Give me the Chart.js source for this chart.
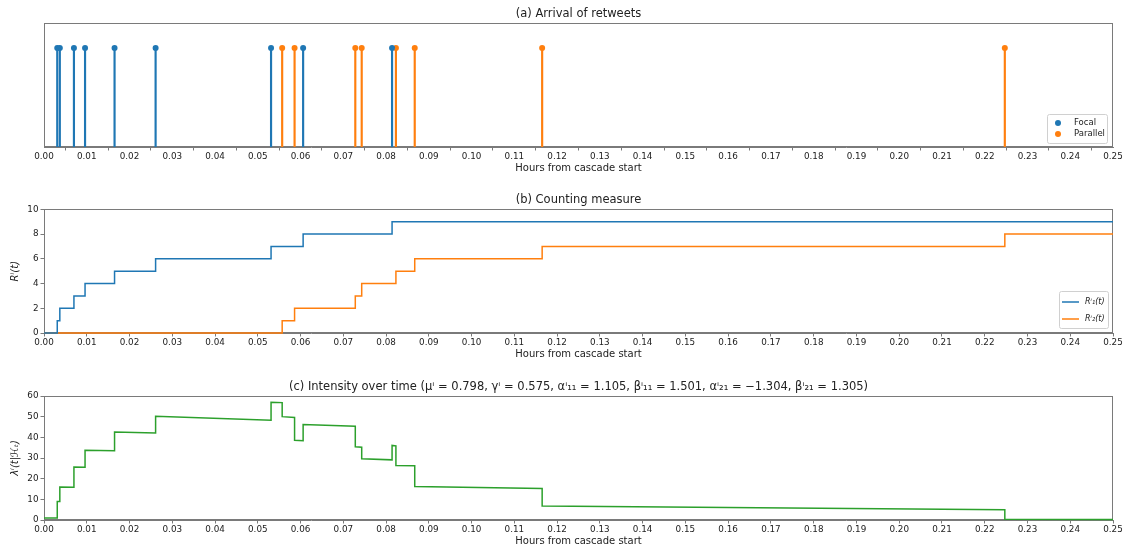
<!DOCTYPE html>
<html>
<head>
<meta charset="utf-8">
<script src="https://cdn.jsdelivr.net/npm/chart.js@4.4.1/dist/chart.umd.min.js"></script>
<style>
  html, body { margin: 0; padding: 0; background: #fff; }
  #wrap { position: relative; width: 1128px; height: 550px; }
  #wrap canvas { position: absolute; left: 0; }
</style>
</head>
<body>
<div id="wrap">
  <canvas id="arrivalChart" width="1128" height="177" style="top:0px"></canvas>
  <canvas id="countChart" width="1128" height="186" style="top:177px"></canvas>
  <canvas id="intensityChart" width="1128" height="187" style="top:363px"></canvas>
</div>
<script>
// retweet arrival times (hours from cascade start)
const focalTimes = [0.0031, 0.0037, 0.0070, 0.0096, 0.0165, 0.0261, 0.0531, 0.0606, 0.0814];
const parallelTimes = [0.0557, 0.0586, 0.0728, 0.0743, 0.0823, 0.0867, 0.1165, 0.2247];

// counting measure after each arrival
const focalCounts = [1, 2, 3, 4, 5, 6, 7, 8, 9];
const parallelCounts = [1, 2, 3, 4, 5, 6, 7, 8];

// intensity: segment boundaries, value at start and end of each segment
const intensityTimes = [0, 0.0031, 0.0037, 0.0070, 0.0096, 0.0165, 0.0261, 0.0531, 0.0557, 0.0586,
  0.0606, 0.0728, 0.0743, 0.0814, 0.0823, 0.0867, 0.1165, 0.2247, 0.25];
const intensityStart = [1.0, 9.0, 16.0, 25.6, 33.7, 42.6, 50.2, 57.0, 50.0, 38.6, 46.2, 35.4, 29.6, 36.1, 26.4, 16.2, 6.8, 0.4];
const intensityEnd = [1.0, 9.0, 15.9, 25.5, 33.5, 42.1, 48.3, 56.8, 49.6, 38.4, 45.4, 35.2, 29.1, 35.9, 26.2, 15.2, 5.0, 0.3];

const xMin = 0;
const xMax = 0.25;
const xStep = 0.01;

const BLUE = '#1f77b4';
const ORANGE = '#ff7f0e';
const GREEN = '#2ca02c';
const SPINE = '#7a7a7a';
const TEXT = '#222';

Chart.defaults.font.family = '"DejaVu Sans", sans-serif';
Chart.defaults.color = TEXT;
Chart.defaults.animation = false;

// matplotlib-like box around the axes, drawn under the data
const frame = {
  id: 'frame',
  beforeDatasetsDraw(chart) {
    const {ctx, chartArea: a} = chart;
    ctx.save();
    ctx.strokeStyle = SPINE;
    ctx.lineWidth = 1;
    ctx.strokeRect(Math.round(a.left) + 0.5, Math.round(a.top) + 0.5,
      Math.round(a.right - a.left) - 1, Math.round(a.bottom - a.top) - 1);
    ctx.restore();
  }
};

// legend in the lower right corner of the axes
const cornerLegend = {
  id: 'cornerLegend',
  afterDraw(chart, args, opts) {
    if (!opts.items) return;
    const {ctx, chartArea: a} = chart;
    const left = a.right - opts.right - opts.width;
    const top = a.bottom - opts.bottom - opts.height;
    ctx.save();
    ctx.fillStyle = 'rgba(255,255,255,0.85)';
    ctx.strokeStyle = '#d0d0d0';
    ctx.lineWidth = 1;
    ctx.beginPath();
    ctx.roundRect(left + 0.5, top + 0.5, opts.width, opts.height, 2);
    ctx.fill();
    ctx.stroke();
    ctx.font = opts.font;
    ctx.textBaseline = 'middle';
    ctx.textAlign = 'left';
    opts.items.forEach((item, i) => {
      const y = top + opts.first + i * opts.row;
      ctx.fillStyle = item.color;
      ctx.strokeStyle = item.color;
      if (item.kind === 'point') {
        ctx.beginPath();
        ctx.arc(left + 11, y, 3, 0, Math.PI * 2);
        ctx.fill();
      } else {
        ctx.lineWidth = 1.5;
        ctx.beginPath();
        ctx.moveTo(left + 3, y);
        ctx.lineTo(left + 20, y);
        ctx.stroke();
      }
      ctx.fillStyle = TEXT;
      ctx.fillText(item.label, left + opts.textX, y);
    });
    ctx.restore();
  }
};

function xAxis() {
  return {
    type: 'linear',
    min: xMin,
    max: xMax,
    offset: false,
    grid: { display: true, drawOnChartArea: false, drawTicks: true, tickLength: 3.5, color: SPINE },
    border: { display: true, color: SPINE },
    ticks: {
      stepSize: xStep,
      autoSkip: false,
      maxRotation: 0,
      padding: 1,
      font: { size: 8.8 },
      callback: v => v.toFixed(2)
    },
    title: { display: true, text: 'Hours from cascade start', font: { size: 10 }, padding: { top: 0, bottom: 3 } },
    afterFit: s => { s.height = 30; }
  };
}

function yAxis(max, step, label) {
  return {
    min: 0,
    max: max,
    grid: { display: true, drawOnChartArea: false, drawTicks: true, tickLength: 3.5, color: SPINE },
    border: { display: true, color: SPINE },
    ticks: { stepSize: step, padding: 2, font: { size: 8.8 } },
    title: { display: true, text: label, font: { size: 10, style: 'italic' }, padding: { top: 9, bottom: 0 } },
    afterFit: s => { s.width = 44; }
  };
}

function titleOpts(text, top) {
  return {
    display: true, text: text, fullSize: false,
    font: { size: 11.5, weight: 'normal' }, color: TEXT,
    padding: { top: top, bottom: 2 }
  };
}

// (a) arrival of retweets
new Chart(document.getElementById('arrivalChart'), {
  type: 'scatter',
  data: {
    datasets: [
      { type: 'bar', data: focalTimes.map(t => ({ x: t, y: 1 })), backgroundColor: BLUE, barThickness: 1.5, grouped: false },
      { type: 'bar', data: parallelTimes.map(t => ({ x: t, y: 1 })), backgroundColor: ORANGE, barThickness: 1.5, grouped: false },
      { label: 'Focal', data: focalTimes.map(t => ({ x: t, y: 1 })), backgroundColor: BLUE, borderWidth: 0, pointRadius: 3 },
      { label: 'Parallel', data: parallelTimes.map(t => ({ x: t, y: 1 })), backgroundColor: ORANGE, borderWidth: 0, pointRadius: 3 }
    ]
  },
  options: {
    responsive: false,
    layout: { padding: { left: 44, right: 15, top: 0, bottom: 0 } },
    scales: {
      x: xAxis(),
      y: { display: false, min: 0, max: 1.25 }
    },
    plugins: {
      legend: { display: false },
      tooltip: { enabled: false },
      title: titleOpts('(a) Arrival of retweets', 7.5),
      cornerLegend: {
        items: [
          { label: 'Focal', color: BLUE, kind: 'point' },
          { label: 'Parallel', color: ORANGE, kind: 'point' }
        ],
        width: 60, height: 29, right: 6, bottom: 4, first: 9, row: 11, textX: 27,
        font: '8.5px "DejaVu Sans"'
      }
    }
  },
  plugins: [frame, cornerLegend]
});

// (b) counting measure
const focalSteps = [{ x: xMin, y: 0 }, ...focalTimes.map((t, i) => ({ x: t, y: focalCounts[i] })), { x: xMax, y: focalCounts[focalCounts.length - 1] }];
const parallelSteps = [{ x: xMin, y: 0 }, ...parallelTimes.map((t, i) => ({ x: t, y: parallelCounts[i] })), { x: xMax, y: parallelCounts[parallelCounts.length - 1] }];

new Chart(document.getElementById('countChart'), {
  type: 'line',
  data: {
    datasets: [
      { label: 'Rⁱ₁(t)', data: focalSteps, borderColor: BLUE, borderWidth: 1.5, pointRadius: 0, stepped: 'before', fill: false, clip: false },
      { label: 'Rⁱ₂(t)', data: parallelSteps, borderColor: ORANGE, borderWidth: 1.5, pointRadius: 0, stepped: 'before', fill: false, clip: false }
    ]
  },
  options: {
    responsive: false,
    layout: { padding: { left: 0, right: 15, top: 0, bottom: 0 } },
    scales: {
      x: xAxis(),
      y: yAxis(10, 2, 'Rⁱ(t)')
    },
    plugins: {
      legend: { display: false },
      tooltip: { enabled: false },
      title: titleOpts('(b) Counting measure', 16.5),
      cornerLegend: {
        items: [
          { label: 'Rⁱ₁(t)', color: BLUE, kind: 'line' },
          { label: 'Rⁱ₂(t)', color: ORANGE, kind: 'line' }
        ],
        width: 49, height: 37, right: 5, bottom: 5, first: 11, row: 17, textX: 26,
        font: 'italic 8px "DejaVu Sans"'
      }
    }
  },
  plugins: [frame, cornerLegend]
});

// (c) intensity over time
const intensityPoints = [];
for (let i = 0; i < intensityStart.length; i++) {
  intensityPoints.push({ x: intensityTimes[i], y: intensityStart[i] });
  intensityPoints.push({ x: intensityTimes[i + 1], y: intensityEnd[i] });
}

new Chart(document.getElementById('intensityChart'), {
  type: 'line',
  data: {
    datasets: [
      { data: intensityPoints, borderColor: GREEN, borderWidth: 1.5, pointRadius: 0, tension: 0, fill: false, clip: false }
    ]
  },
  options: {
    responsive: false,
    layout: { padding: { left: 0, right: 15, top: 0, bottom: 0 } },
    scales: {
      x: xAxis(),
      y: yAxis(60, 10, 'λⁱ(t|ℋₜ)')
    },
    plugins: {
      legend: { display: false },
      tooltip: { enabled: false },
      title: titleOpts('(c) Intensity over time (μⁱ = 0.798, γⁱ = 0.575, αⁱ₁₁ = 1.105, βⁱ₁₁ = 1.501, αⁱ₂₁ = −1.304, βⁱ₂₁ = 1.305)', 17.2)
    }
  },
  plugins: [frame]
});
</script>
</body>
</html>
